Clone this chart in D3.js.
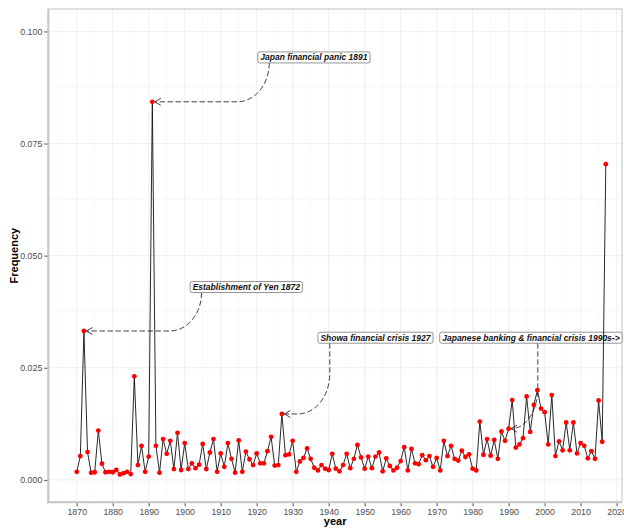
<!DOCTYPE html>
<html lang="en">
<head>
<meta charset="UTF-8"/>
<title>Frequency by year</title>
<script src="https://d3js.org/d3.v7.min.js"></script>
<style>
	body { margin: 0; background: #fff; }
	text { font-family: "Liberation Sans", Arial, sans-serif; }
	.tick text { font-size: 8.8px; fill: #4d4d4d; }
	.tick line { stroke: #4d4d4d; }
	.axis path { display: none; }
	.gridMajor { stroke: #ebebeb; stroke-width: 0.8px; }
	.gridMinor { stroke: #f4f4f4; stroke-width: 0.6px; }
	.line { fill: none; stroke: #111; stroke-width: 0.9px; }
	.dot { fill: #ff0000; }
	.title { font-size: 11px; font-weight: bold; fill: #000; }
	.annoBox { fill: #fff; stroke: #666; stroke-width: 0.7px; }
	.annoText { font-size: 8.5px; font-weight: bold; font-style: italic; fill: #111; }
	.arrow { fill: none; stroke: #222; stroke-width: 0.85px; stroke-dasharray: 5.5,2.5; }
	.arrowHead { fill: none; stroke: #222; stroke-width: 0.85px; }
</style>
</head>
<body>
<div id="chart"></div>
<script>
	// one value per year, 1870 - 2017
	var years = d3.range(1870, 2018);
	var freq = [
		0.0018, 0.0053, 0.0332, 0.0062, 0.0016, 0.0017, 0.0110, 0.0036, 0.0017, 0.0018, // 1870s
		0.0017, 0.0022, 0.0012, 0.0015, 0.0018, 0.0013, 0.0231, 0.0033, 0.0076, 0.0018, // 1880s
		0.0052, 0.0843, 0.0076, 0.0016, 0.0091, 0.0058, 0.0087, 0.0024, 0.0105, 0.0022, // 1890s
		0.0082, 0.0024, 0.0037, 0.0026, 0.0034, 0.0080, 0.0024, 0.0061, 0.0091, 0.0018, // 1900s
		0.0059, 0.0029, 0.0082, 0.0047, 0.0016, 0.0088, 0.0018, 0.0063, 0.0046, 0.0033, // 1910s
		0.0059, 0.0037, 0.0037, 0.0064, 0.0096, 0.0032, 0.0033, 0.0147, 0.0055, 0.0057, // 1920s
		0.0087, 0.0018, 0.0041, 0.0049, 0.0070, 0.0047, 0.0027, 0.0021, 0.0033, 0.0025, // 1930s
		0.0022, 0.0058, 0.0025, 0.0019, 0.0033, 0.0058, 0.0026, 0.0047, 0.0078, 0.0050, // 1940s
		0.0025, 0.0052, 0.0026, 0.0052, 0.0061, 0.0019, 0.0048, 0.0031, 0.0021, 0.0027, // 1950s
		0.0042, 0.0073, 0.0021, 0.0069, 0.0037, 0.0035, 0.0055, 0.0044, 0.0053, 0.0029, // 1960s
		0.0049, 0.0021, 0.0087, 0.0053, 0.0076, 0.0047, 0.0043, 0.0065, 0.0051, 0.0057, // 1970s
		0.0025, 0.0021, 0.0130, 0.0056, 0.0091, 0.0054, 0.0089, 0.0047, 0.0108, 0.0087, // 1980s
		0.0114, 0.0178, 0.0072, 0.0079, 0.0093, 0.0186, 0.0107, 0.0167, 0.0200, 0.0159, // 1990s
		0.0151, 0.0079, 0.0189, 0.0053, 0.0086, 0.0066, 0.0128, 0.0066, 0.0128, 0.0059, // 2000s
		0.0082, 0.0076, 0.0048, 0.0064, 0.0047, 0.0177, 0.0085, 0.0704                  // 2010s
	];

	var xTicks = d3.range(1870, 2021, 10);
	var xMinor = d3.range(1865, 2021, 10);
	var yTicks = [0, 0.025, 0.05, 0.075, 0.1];
	var yMinor = [0.0125, 0.0375, 0.0625, 0.0875];

	// annotations: label text, label centre (year, value), where the arrow leaves, year it points at
	var annoText = ["Japan financial panic 1891", "Establishment of Yen 1872", "Showa financial crisis 1927", "Japanese banking & financial crisis 1990s->"];
	var annoYear = [1935.9, 1917.1, 1953.0, 1996.2];
	var annoValue = [0.0942, 0.0430, 0.0317, 0.0317];
	var annoStart = [1923.5, 1904.7, 1940.3, 1998.1];
	var annoTarget = [1891, 1872, 1927, 1990];

	var data = years.map(function(y, i) { return { year: y, freq: freq[i] }; });

	var w = 624;
	var h = 531;
	var pLeft = 48.3, pRight = 622, pTop = 9, pBottom = 502.3;

	var xScale = d3.scaleLinear().domain([1862.1, 2021.5]).range([pLeft, pRight]);
	var yScale = d3.scaleLinear().domain([-0.005, 0.105]).range([pBottom, pTop]);

	var svg = d3.select("#chart").append("svg")
		.attr("width", w)
		.attr("height", h);

	// grid
	svg.selectAll(".gx2").data(xMinor).enter().append("line")
		.attr("class", "gridMinor")
		.attr("x1", function(d) { return xScale(d); }).attr("x2", function(d) { return xScale(d); })
		.attr("y1", pTop).attr("y2", pBottom);
	svg.selectAll(".gy2").data(yMinor).enter().append("line")
		.attr("class", "gridMinor")
		.attr("x1", pLeft).attr("x2", pRight)
		.attr("y1", function(d) { return yScale(d); }).attr("y2", function(d) { return yScale(d); });
	svg.selectAll(".gx").data(xTicks).enter().append("line")
		.attr("class", "gridMajor")
		.attr("x1", function(d) { return xScale(d); }).attr("x2", function(d) { return xScale(d); })
		.attr("y1", pTop).attr("y2", pBottom);
	svg.selectAll(".gy").data(yTicks).enter().append("line")
		.attr("class", "gridMajor")
		.attr("x1", pLeft).attr("x2", pRight)
		.attr("y1", function(d) { return yScale(d); }).attr("y2", function(d) { return yScale(d); });

	// panel border + heavier left/bottom axis lines
	svg.append("rect")
		.attr("x", pLeft).attr("y", pTop)
		.attr("width", pRight - pLeft).attr("height", pBottom - pTop)
		.attr("fill", "none").attr("stroke", "#b3b3b3").attr("stroke-width", 0.8);
	svg.append("line")
		.attr("x1", pLeft).attr("x2", pLeft).attr("y1", pTop).attr("y2", pBottom + 1)
		.attr("stroke", "#c4c4c4").attr("stroke-width", 2);
	svg.append("line")
		.attr("x1", pLeft - 1).attr("x2", pRight).attr("y1", pBottom).attr("y2", pBottom)
		.attr("stroke", "#c4c4c4").attr("stroke-width", 2);

	var xAxis = d3.axisBottom(xScale).tickValues(xTicks).tickFormat(d3.format("d")).tickSize(3).tickPadding(2);
	var yAxis = d3.axisLeft(yScale).tickValues(yTicks).tickFormat(d3.format(".3f")).tickSize(3).tickPadding(2);

	svg.append("g").attr("class", "axis")
		.attr("transform", "translate(0," + (pBottom + 1) + ")")
		.call(xAxis);
	svg.append("g").attr("class", "axis")
		.attr("transform", "translate(" + (pLeft - 1) + ",0)")
		.call(yAxis);

	svg.append("text").attr("class", "title")
		.attr("x", (pLeft + pRight) / 2).attr("y", 525)
		.attr("text-anchor", "middle")
		.text("year");
	svg.append("text").attr("class", "title")
		.attr("transform", "translate(18," + ((pTop + pBottom) / 2) + ") rotate(-90)")
		.attr("text-anchor", "middle")
		.text("Frequency");

	// annotations
	var anno = svg.append("g");
	annoText.forEach(function(t, i) {
		var cx = xScale(annoYear[i]);
		var cy = yScale(annoValue[i]);
		var g = anno.append("g");
		var txt = g.append("text")
			.attr("class", "annoText")
			.attr("x", cx).attr("y", cy + 3)
			.attr("text-anchor", "middle")
			.text(t);
		var tw = txt.node().getComputedTextLength();
		var bh = 11;
		g.insert("rect", "text")
			.attr("class", "annoBox")
			.attr("x", cx - tw / 2 - 2.5).attr("y", cy - bh / 2)
			.attr("width", tw + 5).attr("height", bh)
			.attr("rx", 2).attr("ry", 2);

		// dashed curve: goes down from the label, bends, runs in flat to the point
		var sx = xScale(annoStart[i]);
		var sy = cy + bh / 2;
		var idx = years.indexOf(annoTarget[i]);
		var ex = xScale(annoTarget[i]) + 2.5;
		var ey = yScale(freq[idx]);
		var cw = Math.min(sx - ex, 32);
		var ch = Math.min(ey - sy, 40);
		var k = 0.552;
		var p = d3.path();
		p.moveTo(sx, sy);
		p.lineTo(sx, ey - ch);
		p.bezierCurveTo(sx, ey - ch + k * ch, sx - cw + k * cw, ey, sx - cw, ey);
		p.lineTo(ex, ey);
		anno.insert("path", "g")
			.attr("class", "arrow")
			.attr("d", p.toString());
		anno.append("path")
			.attr("class", "arrowHead")
			.attr("d", "M" + (ex + 6) + "," + (ey - 3.5) + "L" + ex + "," + ey + "L" + (ex + 6) + "," + (ey + 3.5));
	});

	var line = d3.line()
		.x(function(d) { return xScale(d.year); })
		.y(function(d) { return yScale(d.freq); });

	svg.append("path")
		.datum(data)
		.attr("class", "line")
		.attr("d", line);

	svg.selectAll(".dot").data(data).enter().append("circle")
		.attr("class", "dot")
		.attr("cx", function(d) { return xScale(d.year); })
		.attr("cy", function(d) { return yScale(d.freq); })
		.attr("r", 2.4);
</script>
</body>
</html>
